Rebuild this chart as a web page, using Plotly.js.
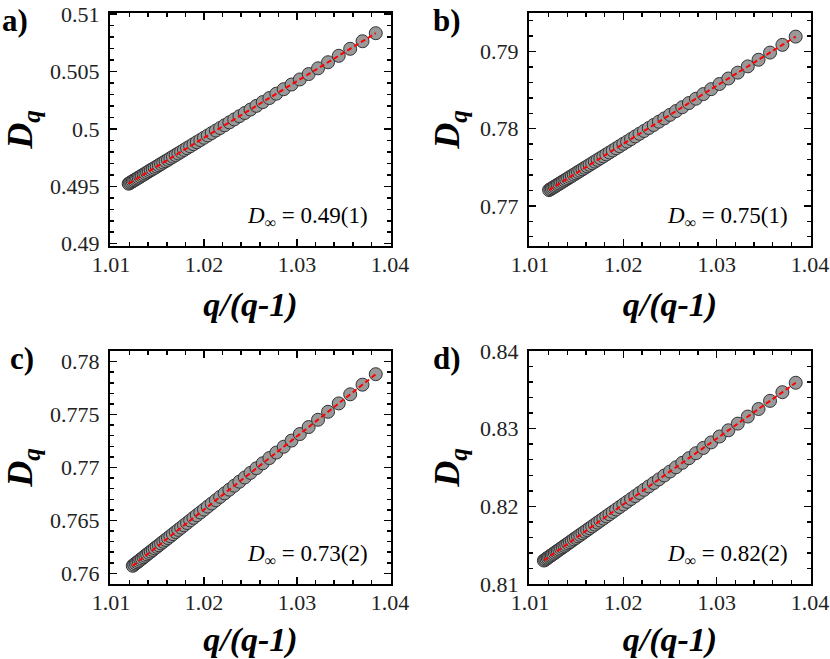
<!DOCTYPE html>
<html>
<head>
<meta charset="utf-8">
<script src="https://cdn.plot.ly/plotly-3.0.1.min.js"></script>
<style>
  body { margin: 0; background: #fff; }
  #plot_window_dq { width: 830px; height: 659px; }
</style>
</head>
<body>
<div id="plot_window_dq"></div>
<script>
// q/(q-1) for q = 88 ... 27
const qRatio = [1.011494, 1.011628, 1.011765, 1.011905, 1.012048, 1.012195, 1.012346, 1.012500,
    1.012658, 1.012821, 1.012987, 1.013158, 1.013333, 1.013514, 1.013699, 1.013889, 1.014085,
    1.014286, 1.014493, 1.014706, 1.014925, 1.015152, 1.015385, 1.015625, 1.015873, 1.016129,
    1.016393, 1.016667, 1.016949, 1.017241, 1.017544, 1.017857, 1.018182, 1.018519, 1.018868,
    1.019231, 1.019608, 1.020000, 1.020408, 1.020833, 1.021277, 1.021739, 1.022222, 1.022727,
    1.023256, 1.023810, 1.024390, 1.025000, 1.025641, 1.026316, 1.027027, 1.027778, 1.028571,
    1.029412, 1.030303, 1.031250, 1.032258, 1.033333, 1.034483, 1.035714, 1.037037, 1.038462];

// D_q values, each series ends at q = 27
const dqA = [0.49523, 0.49530, 0.49537, 0.49545, 0.49552, 0.49560, 0.49568, 0.49576, 0.49585, 0.49594,
    0.49602, 0.49612, 0.49621, 0.49631, 0.49641, 0.49651, 0.49661, 0.49672, 0.49683, 0.49695,
    0.49707, 0.49719, 0.49731, 0.49745, 0.49758, 0.49772, 0.49786, 0.49801, 0.49817, 0.49833,
    0.49849, 0.49867, 0.49885, 0.49903, 0.49923, 0.49943, 0.49964, 0.49986, 0.50008, 0.50032,
    0.50057, 0.50083, 0.50111, 0.50139, 0.50169, 0.50201, 0.50234, 0.50269, 0.50307, 0.50346,
    0.50387, 0.50431, 0.50478, 0.50528, 0.50581, 0.50637, 0.50698, 0.50764, 0.50834];
const dqB = [0.77205, 0.77216, 0.77227, 0.77239, 0.77251, 0.77263, 0.77276, 0.77288, 0.77302, 0.77315,
    0.77329, 0.77343, 0.77358, 0.77373, 0.77389, 0.77405, 0.77421, 0.77439, 0.77456, 0.77474,
    0.77493, 0.77512, 0.77532, 0.77553, 0.77574, 0.77596, 0.77619, 0.77642, 0.77667, 0.77692,
    0.77718, 0.77746, 0.77774, 0.77804, 0.77834, 0.77866, 0.77900, 0.77935, 0.77971, 0.78009,
    0.78049, 0.78091, 0.78134, 0.78180, 0.78229, 0.78279, 0.78333, 0.78389, 0.78449, 0.78513,
    0.78580, 0.78651, 0.78727, 0.78808, 0.78894, 0.78987, 0.79087, 0.79194];
const dqC = [0.76072, 0.76083, 0.76094, 0.76105, 0.76116, 0.76128, 0.76140, 0.76153, 0.76166, 0.76179,
    0.76193, 0.76206, 0.76221, 0.76236, 0.76251, 0.76266, 0.76283, 0.76299, 0.76316, 0.76334,
    0.76352, 0.76371, 0.76391, 0.76411, 0.76432, 0.76454, 0.76476, 0.76500, 0.76524, 0.76549,
    0.76575, 0.76602, 0.76631, 0.76660, 0.76691, 0.76723, 0.76756, 0.76791, 0.76828, 0.76866,
    0.76906, 0.76949, 0.76993, 0.77040, 0.77089, 0.77141, 0.77196, 0.77254, 0.77316, 0.77382,
    0.77451, 0.77526, 0.77605, 0.77691, 0.77782, 0.77881];
const dqD = [0.81302, 0.81313, 0.81325, 0.81337, 0.81349, 0.81362, 0.81374, 0.81387, 0.81401, 0.81415,
    0.81429, 0.81443, 0.81458, 0.81474, 0.81489, 0.81505, 0.81522, 0.81539, 0.81557, 0.81575,
    0.81593, 0.81613, 0.81632, 0.81653, 0.81674, 0.81695, 0.81718, 0.81741, 0.81765, 0.81790,
    0.81816, 0.81842, 0.81870, 0.81898, 0.81928, 0.81959, 0.81991, 0.82024, 0.82059, 0.82095,
    0.82132, 0.82172, 0.82213, 0.82256, 0.82300, 0.82347, 0.82397, 0.82448, 0.82503, 0.82560,
    0.82620, 0.82684, 0.82752, 0.82823, 0.82899, 0.82979, 0.83065, 0.83156, 0.83253, 0.83358,
    0.83470, 0.83591];

// linear fits (end points)
const fitA = [0.49523, 0.50834];
const fitB = [0.77205, 0.79194];
const fitC = [0.76072, 0.77881];
const fitD = [0.81302, 0.83591];

const panelLabels = ['a)', 'b)', 'c)', 'd)'];
const dInfText = ['0.49(1)', '0.75(1)', '0.73(2)', '0.82(2)'];

const W = 830, H = 659;
const serif = 'Liberation Serif, Times New Roman, serif';

// pixel -> paper helpers
function px(x){ return x / W; }
function py(y){ return 1 - y / H; }

// frame boxes in pixels [left, top, right, bottom]
const boxes = [
    [110, 13, 391, 246],
    [529, 13, 811, 246],
    [110, 351, 391, 584],
    [529, 351, 811, 584]
];

function make_traces(ys, fit, n){
    let xs = qRatio.slice(qRatio.length - ys.length);
    let suffix = n === 1 ? '' : String(n);
    let pts = {
        x: xs, y: ys,
        xaxis: 'x' + suffix, yaxis: 'y' + suffix,
        type: 'scatter', mode: 'markers',
        marker: {size: 13, color: '#999999', line: {color: '#333333', width: 1}},
        showlegend: false, hoverinfo: 'skip'
    };
    let line = {
        x: [xs[0], xs[xs.length - 1]], y: fit,
        xaxis: 'x' + suffix, yaxis: 'y' + suffix,
        type: 'scatter', mode: 'lines',
        line: {color: '#ff0000', width: 2, dash: '5px,3px'},
        showlegend: false, hoverinfo: 'skip'
    };
    return [pts, line];
}

function make_axis(domain, range, dtick, minorDtick, anchor, standoff, title){
    return {
        domain: domain, range: range, anchor: anchor,
        dtick: dtick, tick0: 0,
        showline: true, linecolor: '#000', linewidth: 2, mirror: 'allticks',
        ticks: 'inside', ticklen: 7, tickwidth: 1.5, tickcolor: '#000',
        minor: {ticks: 'inside', dtick: minorDtick, ticklen: 4, tickwidth: 1.5, tickcolor: '#000'},
        showgrid: false, zeroline: false,
        tickfont: {family: serif, size: 22, color: '#222'},
        ticklabelstandoff: standoff,
        title: title
    };
}

let data = [];
data = data.concat(make_traces(dqA, fitA, 1));
data = data.concat(make_traces(dqB, fitB, 2));
data = data.concat(make_traces(dqC, fitC, 3));
data = data.concat(make_traces(dqD, fitD, 4));

const yRanges = [[0.4898, 0.5101], [0.7648, 0.7950], [0.7590, 0.7810], [0.8100, 0.8400]];
const yDticks = [[0.005, 0.001], [0.01, 0.002], [0.005, 0.001], [0.01, 0.002]];

let layout = {
    width: W, height: H,
    margin: {l: 0, r: 0, t: 0, b: 0},
    paper_bgcolor: '#fff', plot_bgcolor: '#fff',
    showlegend: false,
    annotations: []
};

boxes.forEach(function(b, i){
    let suffix = i === 0 ? '' : String(i + 1);
    let xd = [px(b[0]), px(b[2])];
    let yd = [py(b[3]), py(b[1])];
    let xTitle = {
        text: 'q/(q-1)', standoff: 16,
        font: {family: serif, size: 34, color: '#000', weight: 'bold', style: 'italic'}
    };
    let yTitle = {
        text: 'D<sub>q</sub>', standoff: 9,
        font: {family: serif, size: 36, color: '#000', weight: 'bold', style: 'italic'}
    };
    layout['xaxis' + suffix] = make_axis(xd, [1.0099, 1.0401], 0.01, 0.002, 'y' + suffix, -2, xTitle);
    layout['yaxis' + suffix] = make_axis(yd, yRanges[i], yDticks[i][0], yDticks[i][1], 'x' + suffix, 4, yTitle);

    // panel label
    layout.annotations.push({
        text: panelLabels[i], xref: 'paper', yref: 'paper',
        x: px(b[0] - 110 + (i % 2 === 1 ? 12 : 0) + (i === 2 ? 8 : 0)), y: py(b[1] - 12),
        xanchor: 'left', yanchor: 'top',
        showarrow: false, font: {family: serif, size: 31, color: '#000', weight: 'bold'}
    });
    // D_inf result
    layout.annotations.push({
        text: '<i>D</i><sub>∞</sub> = ' + dInfText[i], xref: 'paper', yref: 'paper',
        x: px(b[2] - 21), y: py(b[3] - 29), xanchor: 'right', yanchor: 'middle',
        showarrow: false, font: {family: serif, size: 23, color: '#000'}
    });
});

Plotly.newPlot('plot_window_dq', data, layout, {staticPlot: true});
</script>
</body>
</html>
